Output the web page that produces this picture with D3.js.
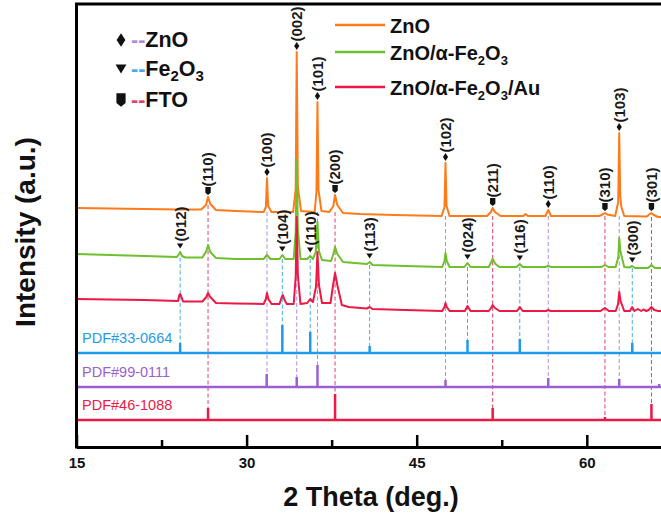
<!DOCTYPE html>
<html><head><meta charset="utf-8">
<script src="https://cdn.jsdelivr.net/npm/d3@7"></script>
<style>body{margin:0;background:#fff}svg{display:block}</style>
</head><body><svg id="c" width="661" height="515"></svg>
<script>
// ---------------- data ----------------
const xTicks = [15, 30, 45, 60];
const xMinorTicks = [22.5, 37.5, 52.5];
const seriesNames = ["ZnO", "ZnO/α-Fe2O3", "ZnO/α-Fe2O3/Au"];

// [2θ, intensity (a.u., stacked)]
const znoPattern = [[15,239],[18,238.5],[21,238],[24,237.5],[26.0,237.5],[26.42,242],[26.6,250],[26.8,243],[27.3,237],[29,236],[31.5,235],[31.7,240],[31.8,269],[31.9,241],[32.2,235],[34.1,235],[34.33,258],[34.42,395],[34.52,260],[34.8,236],[36.0,235],[36.16,255],[36.25,345],[36.34,257],[36.6,236],[37.3,235],[37.65,241],[37.8,252],[38.0,242],[38.5,234],[40,233],[43,232],[47.2,231],[47.45,240],[47.54,284],[47.63,241],[47.9,231],[51.2,231],[51.55,235],[51.7,239],[51.9,235],[52.4,231],[54.4,231],[54.6,233],[54.8,231],[56.35,231],[56.6,237],[56.85,231],[61.1,231],[61.45,233],[61.6,234],[61.8,232.5],[62.5,231],[62.77,245],[62.86,314],[62.95,250],[63.05,240],[63.3,231],[65.3,230.5],[65.55,233],[65.7,234],[65.9,232],[66.3,230],[70,230]];
const znoFePattern = [[15,193],[18,192],[21,191],[23.85,190],[24.05,193],[24.14,195],[24.3,191],[24.6,189.5],[26.1,189.5],[26.45,196],[26.6,202],[26.8,195],[27.3,189],[29,188],[31.5,188],[31.8,192],[32.1,188],[32.9,188],[33.15,192],[33.4,188],[34.15,188],[34.33,215],[34.42,287],[34.52,218],[34.75,188],[35.35,188],[35.61,191],[35.85,188],[36.1,195],[36.25,225],[36.38,196],[36.65,187],[37.45,186],[37.65,193],[37.8,200],[38.0,193],[38.5,185],[40.6,183],[40.85,185],[41.1,182],[44,181],[47.25,180],[47.45,186],[47.54,194],[47.65,186],[47.9,180],[49.2,180],[49.48,184],[49.75,180],[51.35,180],[51.7,188],[51.95,183],[52.3,180],[53.8,180],[54.09,183],[54.35,180],[56.35,180],[56.6,181],[56.85,180],[61.3,180],[61.6,182],[61.9,180],[62.55,180],[62.78,190],[62.86,209],[62.96,196],[63.3,180],[63.75,179.5],[64.0,181],[64.25,179],[65.4,179],[65.7,182],[66.0,179],[70,179]];
const znoFeAuPattern = [[15,148],[18,147.5],[21,147],[23.95,146],[24.07,152],[24.14,153],[24.22,151],[24.4,145.5],[26.1,145.5],[26.45,150],[26.6,154],[26.8,150],[27.3,144],[29,143.5],[31.5,143],[31.7,148],[31.8,154],[31.92,148],[32.2,143],[32.9,143],[33.1,150],[33.2,152],[33.35,147],[33.55,143],[34.15,143],[34.33,170],[34.42,230],[34.52,172],[34.75,143],[35.35,144],[35.61,148],[35.85,145],[36.12,160],[36.25,195],[36.38,162],[36.65,144],[37.4,144],[37.6,160],[37.8,174],[38.0,162],[38.4,142],[39,140],[40.6,138.5],[40.85,140],[41.1,138],[44,137],[47.25,136],[47.45,140],[47.54,144],[47.65,140],[47.9,136],[49.25,136],[49.48,141],[49.75,136],[51.35,136],[51.55,139],[51.7,142],[51.9,139],[52.3,136],[53.85,136],[54.09,140],[54.35,136],[56.4,136],[56.6,137],[56.8,136],[61.2,136],[61.6,139],[61.95,136],[62.55,136],[62.76,143],[62.86,155],[62.98,146],[63.3,136],[63.8,136],[64.0,140],[64.2,136],[64.5,138],[64.8,136],[65.0,137.5],[65.25,136],[65.45,137],[65.7,140],[65.95,137],[66.3,136],[70,136]];

// reference patterns: [2θ, relative intensity]
const refNames = ["PDF#33-0664", "PDF#99-0111", "PDF#46-1088"];
const refBase = [94, 60, 27];
const refFe2O3 = [[24.14,10],[33.15,28],[35.61,21],[40.85,7],[49.48,13],[54.09,14],[64.01,10]];
const refZnO = [[31.77,13],[34.42,10],[36.25,22],[47.54,7],[56.6,9],[62.86,8],[66.38,3]];
const refFTO = [[26.6,12],[37.8,26],[51.7,12],[61.6,3],[65.7,16]];

// peak labels: hkl, phase, 2θ, series index
const peakHkl   = ["(110)","(100)","(002)","(101)","(200)","(102)","(211)","(110)","(310)","(103)","(301)","(012)","(104)","(110)","(113)","(024)","(116)","(300)"];
const peakPhase = ["FTO","ZnO","ZnO","ZnO","FTO","ZnO","FTO","ZnO","FTO","ZnO","FTO","Fe2O3","Fe2O3","Fe2O3","Fe2O3","Fe2O3","Fe2O3","Fe2O3"];
const peakTheta = [26.6,31.8,34.42,36.25,37.8,47.54,51.7,56.6,61.6,62.86,65.7,24.14,33.15,35.61,40.85,49.48,54.09,64.01];
const peakOn    = [0,0,0,0,0,0,0,0,0,0,0,1,1,1,1,1,1,1];

// ---------------- styles ----------------
const FONT = "Liberation Sans, Arial, sans-serif";
const seriesColors = ["#FF7A1A", "#6FBF2E", "#EC1846"];
const refColors = ["#1E9BE8", "#9B5FD0", "#EC1846"];
const dashColors = {ZnO: "#B08AE0", Fe2O3: "#45AAEE", FTO: "#E2406A"};
const phaseRef = {Fe2O3: 0, ZnO: 1, FTO: 2};

const svg = d3.select("#c");
const W = 661;
const x = d3.scaleLinear().domain([15, 70]).range([76.5, 76.5 + 55 * 11.34]);
const y = d3.scaleLinear().domain([0, 443]).range([447, 4]);
const series = [znoPattern, znoFePattern, znoFeAuPattern];
const refs = [refFe2O3, refZnO, refFTO];

const shapes = {
  ZnO: s => `M0,${-4*s}L${2.6*s},0L0,${4*s}L${-2.6*s},0Z`,
  Fe2O3: s => `M${-3.2*s},${-2.6*s}L${3.2*s},${-2.6*s}L0,${2.6*s}Z`,
  FTO: s => `M${-2.7*s},${-4*s}L${2.7*s},${-4*s}L${2.7*s},${1.8*s}L0,${4*s}L${-2.7*s},${1.8*s}Z`
};

function localMax(data, t, w) { return d3.max(data.filter(d => Math.abs(d[0]-t) <= w), d => d[1]); }
function localMin(data, t, w) { return d3.min(data.filter(d => Math.abs(d[0]-t) <= w), d => d[1]); }

// dashed guide lines
const gDash = svg.append("g");
peakTheta.forEach((t, i) => {
  const ph = peakPhase[i], r = phaseRef[ph];
  const stick = refs[r].find(d => Math.abs(d[0]-t) < 0.4);
  const yTop = y(localMin(series[peakOn[i]], t, 0.6));
  const yBot = y(refBase[r] + (stick ? stick[1] : 0));
  gDash.append("line").attr("x1", x(t)).attr("x2", x(t)).attr("y1", yTop).attr("y2", yBot)
    .attr("stroke", dashColors[ph]).attr("stroke-width", 1).attr("stroke-dasharray", "4,2.5");
});

// patterns
const line = d3.line().x(d => x(d[0])).y(d => y(d[1]));
series.forEach((s, i) => {
  svg.append("path").attr("d", line(s)).attr("fill", "none")
    .attr("stroke", seriesColors[i]).attr("stroke-width", 2).attr("stroke-linejoin", "round");
});

// reference sticks
refs.forEach((rf, i) => {
  const g = svg.append("g");
  g.append("line").attr("x1", x(15)).attr("x2", W).attr("y1", y(refBase[i])).attr("y2", y(refBase[i]))
    .attr("stroke", refColors[i]).attr("stroke-width", 2.5);
  g.selectAll("line.s").data(rf).join("line").attr("class", "s")
    .attr("x1", d => x(d[0])).attr("x2", d => x(d[0]))
    .attr("y1", y(refBase[i])).attr("y2", d => y(refBase[i] + d[1]))
    .attr("stroke", refColors[i]).attr("stroke-width", 2.5);
  g.append("text").attr("x", 82).attr("y", y(refBase[i]) - 10).text(refNames[i])
    .attr("fill", refColors[i]).attr("font-family", FONT).attr("font-size", 14.5);
});

// markers + hkl labels
peakTheta.forEach((t, i) => {
  const ph = peakPhase[i];
  const yA = y(localMax(series[peakOn[i]], t, 0.12)) - 6;
  svg.append("path").attr("d", shapes[ph](1)).attr("transform", `translate(${x(t)},${yA})`).attr("fill", "#111");
  svg.append("text").attr("transform", `translate(${x(t)},${yA - 4.5}) rotate(-90)`)
    .attr("dy", "0.36em").text(peakHkl[i])
    .attr("font-family", FONT).attr("font-size", 15).attr("font-weight", "bold").attr("fill", "#1a1a1a");
});

// axes
const ax = svg.append("g").attr("transform", `translate(0,${y(0)})`)
  .call(d3.axisBottom(x).tickValues(xTicks).tickSize(-12).tickSizeOuter(0).tickPadding(10).tickFormat(d3.format("d")));
ax.select(".domain").attr("stroke-width", 3);
ax.selectAll(".tick line").attr("stroke-width", 2.5);
ax.selectAll(".tick text").attr("font-family", FONT).attr("font-size", 15).attr("font-weight", "bold").attr("fill", "#111");
const axm = svg.append("g").attr("transform", `translate(0,${y(0)})`)
  .call(d3.axisBottom(x).tickValues(xMinorTicks).tickSize(-7).tickSizeOuter(0).tickFormat(""));
axm.select(".domain").remove();
axm.selectAll(".tick line").attr("stroke-width", 2.5);
svg.append("line").attr("x1", x(15)).attr("x2", x(15)).attr("y1", y(443)).attr("y2", y(0) + 1.5).attr("stroke", "#000").attr("stroke-width", 3);
svg.append("line").attr("x1", x(15) - 1.5).attr("x2", W).attr("y1", y(443)).attr("y2", y(443)).attr("stroke", "#000").attr("stroke-width", 3);

// axis titles
svg.append("text").attr("transform", "translate(35,232) rotate(-90)").attr("text-anchor", "middle")
  .text("Intensity (a.u.)").attr("font-family", FONT).attr("font-weight", "bold").attr("font-size", 28).attr("fill", "#111");
svg.append("text").attr("x", 371).attr("y", 506).attr("text-anchor", "middle")
  .text("2 Theta (deg.)").attr("font-family", FONT).attr("font-weight", "bold").attr("font-size", 27).attr("fill", "#111");

// phase legend (top-left)
const phaseLegend = [["ZnO", "ZnO", 47], ["Fe2O3", "Fe", 76], ["FTO", "FTO", 107]];
phaseLegend.forEach(([ph, label, by]) => {
  svg.append("path").attr("d", shapes[ph](1.7)).attr("transform", `translate(121,${by - 7})`).attr("fill", "#111");
  const t = svg.append("text").attr("x", 131).attr("y", by).attr("font-family", FONT).attr("font-weight", "bold").attr("font-size", 21.5).attr("fill", "#111");
  t.append("tspan").attr("fill", dashColors[ph]).text("--");
  t.append("tspan").text(label);
  if (ph === "Fe2O3") {
    t.append("tspan").attr("font-size", 15).attr("dy", 5).text("2");
    t.append("tspan").attr("dy", -5).text("O");
    t.append("tspan").attr("font-size", 15).attr("dy", 5).text("3");
  }
});

// series legend (top-right)
const legY = [25, 52, 87], legBase = [33, 60, 95];
seriesNames.forEach((n, i) => {
  svg.append("line").attr("x1", 335).attr("x2", 385).attr("y1", legY[i]).attr("y2", legY[i]).attr("stroke", seriesColors[i]).attr("stroke-width", 2.5);
  const t = svg.append("text").attr("x", 390).attr("y", legBase[i]).attr("font-family", FONT).attr("font-weight", "bold").attr("font-size", 20).attr("fill", "#111");
  let prevSub = false;
  n.split(/(\d)/).forEach(p => {
    if (!p.length) return;
    if (/^\d$/.test(p)) {
      t.append("tspan").attr("font-size", 13).attr("dy", 5).text(p);
      prevSub = true;
    } else {
      t.append("tspan").attr("dy", prevSub ? -5 : 0).text(p);
      prevSub = false;
    }
  });
});
</script></body></html>
